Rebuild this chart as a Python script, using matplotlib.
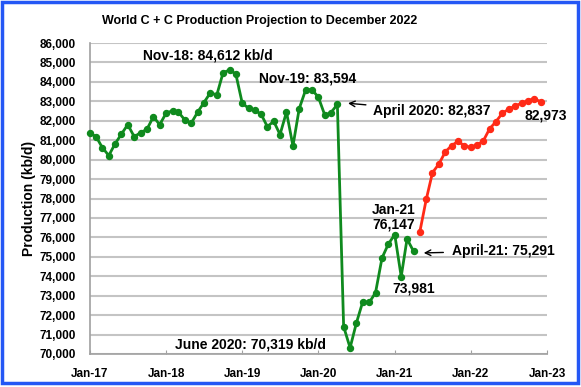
import pandas as pd
import matplotlib.pyplot as plt
import matplotlib.dates as mdates
from matplotlib.patches import Rectangle
from matplotlib.ticker import FuncFormatter

plt.rcParams['font.family'] = ['Liberation Sans', 'DejaVu Sans']
plt.rcParams['font.weight'] = 'bold'

# Actual production, Jan-17 .. Apr-21 (kb/d)
actual_months = pd.date_range('2017-01-01', '2021-04-01', freq='MS')
actual = [81390, 81150, 80620, 80210, 80810, 81320, 81800, 81180, 81390, 81560, 82210, 81800,
          82390, 82520, 82440, 82040, 81870, 82440, 82930, 83440, 83330, 84470, 84612, 84410,
          82900, 82640, 82530, 82350, 81700, 81970, 81290, 82450, 80700, 82620, 83594, 83600,
          83210, 82280, 82420, 82837, 71410, 70319, 71590, 72700, 72650, 73160, 74940, 75650,
          76147, 73981, 75920, 75291]

# Projection, May-21 .. Dec-22 (kb/d)
proj_months = pd.date_range('2021-05-01', '2022-12-01', freq='MS')
projection = [76270, 77950, 79330, 79780, 80410, 80720, 80950, 80700, 80640, 80770,
              80950, 81590, 81950, 82390, 82590, 82760, 82900, 83030, 83140, 82973]

year_ticks = pd.date_range('2017-01-01', '2023-01-01', freq='YS')

fig = plt.figure(figsize=(5.81, 3.87), dpi=100)
ax = fig.add_axes([90 / 581, 1 - 354 / 387, 457 / 581, 311 / 387])

ax.plot(actual_months, actual, color='#0f8a1e', lw=2, marker='o', ms=4.3, clip_on=False, zorder=3)
ax.plot(proj_months, projection, color='#ff2a17', lw=2, marker='o', ms=4.3, clip_on=False, zorder=3)

ax.set_xlim(pd.Timestamp('2017-01-01'), pd.Timestamp('2023-01-01'))
ax.set_ylim(70000, 86000)
ax.set_yticks(range(70000, 86001, 1000))
ax.yaxis.set_major_formatter(FuncFormatter(lambda v, p: f'{int(v):,}'))
ax.set_xticks(year_ticks)
ax.xaxis.set_major_formatter(mdates.DateFormatter('Jan-%y'))

ax.grid(axis='y', color='#c4c4c4', lw=1.5)
ax.set_axisbelow(True)
for s in ['top', 'right']:
    ax.spines[s].set_visible(False)
for s in ['left', 'bottom']:
    ax.spines[s].set_color('#a0a0a0')
    ax.spines[s].set_linewidth(1.2)
ax.tick_params(axis='x', direction='in', length=3, color='#a0a0a0', labelsize=8.5, pad=10)
ax.tick_params(axis='y', length=0, labelsize=8.5, pad=10)

ax.set_ylabel('Production (kb/d)', fontsize=10, fontweight='bold', labelpad=3)
fig.text(260 / 581, 1 - 21 / 387, 'World C + C Production Projection to December 2022',
         ha='center', va='center', fontsize=9, fontweight='bold')

# annotations
fs = 10
ax.text(pd.Timestamp('2018-07-18'), 85380, 'Nov-18: 84,612 kb/d', ha='center', va='center', fontsize=fs)
ax.text(pd.Timestamp('2019-11-10'), 84150, 'Nov-19: 83,594', ha='center', va='center', fontsize=fs)
ax.annotate('April 2020: 82,837', xy=(pd.Timestamp('2020-05-22'), 82900),
            xytext=(pd.Timestamp('2020-09-18'), 82520), ha='left', va='center', fontsize=fs,
            arrowprops=dict(arrowstyle='->', color='black', lw=1, shrinkA=3, shrinkB=0))
ax.text(pd.Timestamp('2019-02-11'), 70470, 'June 2020: 70,319 kb/d', ha='center', va='center', fontsize=fs)
ax.text(pd.Timestamp('2020-12-28'), 77030, 'Jan-21\n76,147', ha='center', va='center',
        fontsize=fs, linespacing=1.1)
ax.text(pd.Timestamp('2021-04-01'), 73390, '73,981', ha='center', va='center', fontsize=fs)
ax.annotate('April-21: 75,291', xy=(pd.Timestamp('2021-05-20'), 75200),
            xytext=(pd.Timestamp('2021-10-01'), 75300), ha='left', va='center', fontsize=fs,
            arrowprops=dict(arrowstyle='->', color='black', lw=1, shrinkA=4, shrinkB=0))
ax.text(pd.Timestamp('2022-12-27'), 82260, '82,973', ha='center', va='center', fontsize=fs, clip_on=False)

# blue frame around the chart
fig.patches.append(Rectangle((2 / 581, 4 / 387), 576 / 581, 381 / 387, transform=fig.transFigure,
                             fill=False, edgecolor='#2457f5', lw=2.5))

plt.savefig('out.png', dpi=100)
